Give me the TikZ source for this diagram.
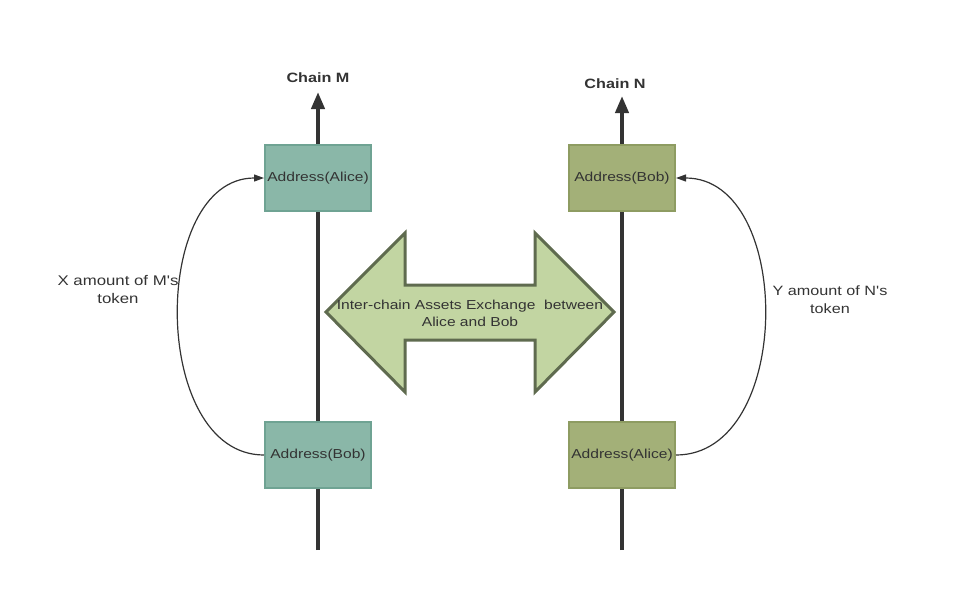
\documentclass[tikz,border=0pt]{standalone}
\usepackage{fontspec}
\setmainfont{Liberation Sans}[FakeStretch=1.2,Ligatures=TeXOff]
\usetikzlibrary{arrows.meta}
\definecolor{tealfill}{HTML}{8AB7A8}
\definecolor{tealdraw}{HTML}{6FA393}
\definecolor{olivefill}{HTML}{A3B078}
\definecolor{olivedraw}{HTML}{8E9C62}
\definecolor{arrfill}{HTML}{C2D5A2}
\definecolor{arrdraw}{HTML}{5F6B4F}
\definecolor{ink}{HTML}{333333}
\tikzset{
  chainline/.style={line width=4pt, draw=ink, -{Triangle[width=13pt,length=17pt]}},
  tealbox/.style={draw=tealdraw, fill=tealfill, line width=2pt, minimum width=106pt, minimum height=66pt, inner sep=0pt, text=ink, font=\fontsize{13}{15}\selectfont},
  olivebox/.style={draw=olivedraw, fill=olivefill, line width=2pt, minimum width=106pt, minimum height=66pt, inner sep=0pt, text=ink, font=\fontsize{13}{15}\selectfont},
  flow/.style={line width=1.2pt, draw=ink, -{Triangle[width=7pt,length=10pt]}},
  lbl/.style={text=ink, align=center, font=\fontsize{13.5}{18}\selectfont},
  title/.style={text=ink, font=\bfseries\fontsize{13.5}{15}\selectfont}
}
\begin{document}
\begin{tikzpicture}[x=1pt,y=-1pt]
\useasboundingbox (0,0) rectangle (961,614);
% chain lines
\coordinate (mbot) at (318,550);
\coordinate (mtop) at (318,92);
\coordinate (nbot) at (622,550);
\coordinate (ntop) at (622,96);
\draw[chainline] (mbot) -- (mtop);
\draw[chainline] (nbot) -- (ntop);
\node[title] (chainM) at (318,78) {Chain M};
\node[title] (chainN) at (615,84) {Chain N};
% boxes
\node[tealbox] (malice) at (318,178) {Address(Alice)};
\node[tealbox] (mbob) at (318,455) {Address(Bob)};
\node[olivebox] (nbob) at (622,178) {Address(Bob)};
\node[olivebox] (nalice) at (622,455) {Address(Alice)};
% double arrow
\draw[fill=arrfill, draw=arrdraw, line width=3pt, line join=miter]
  (326,312) -- (405,233) -- (405,285) -- (535,285) -- (535,233) -- (614,312)
  -- (535,392) -- (535,340) -- (405,340) -- (405,392) -- cycle;
\node[text=ink, align=center, font=\fontsize{13}{17}\selectfont] (exch) at (470,313) {Inter-chain Assets Exchange\ \ between\\Alice and Bob};
% transfers
\draw[flow] (mbob.west) .. controls (150,455) and (150,178) .. (malice.west);
\draw[flow] (nalice.east) .. controls (794,455) and (794,178) .. (nbob.east);
\node[lbl, font=\fontsize{14}{18}\selectfont] (xlbl) at (118,289) {X amount of M's\\token};
\node[lbl] (ylbl) at (830,300) {Y amount of N's\\token};
\end{tikzpicture}
\end{document}
